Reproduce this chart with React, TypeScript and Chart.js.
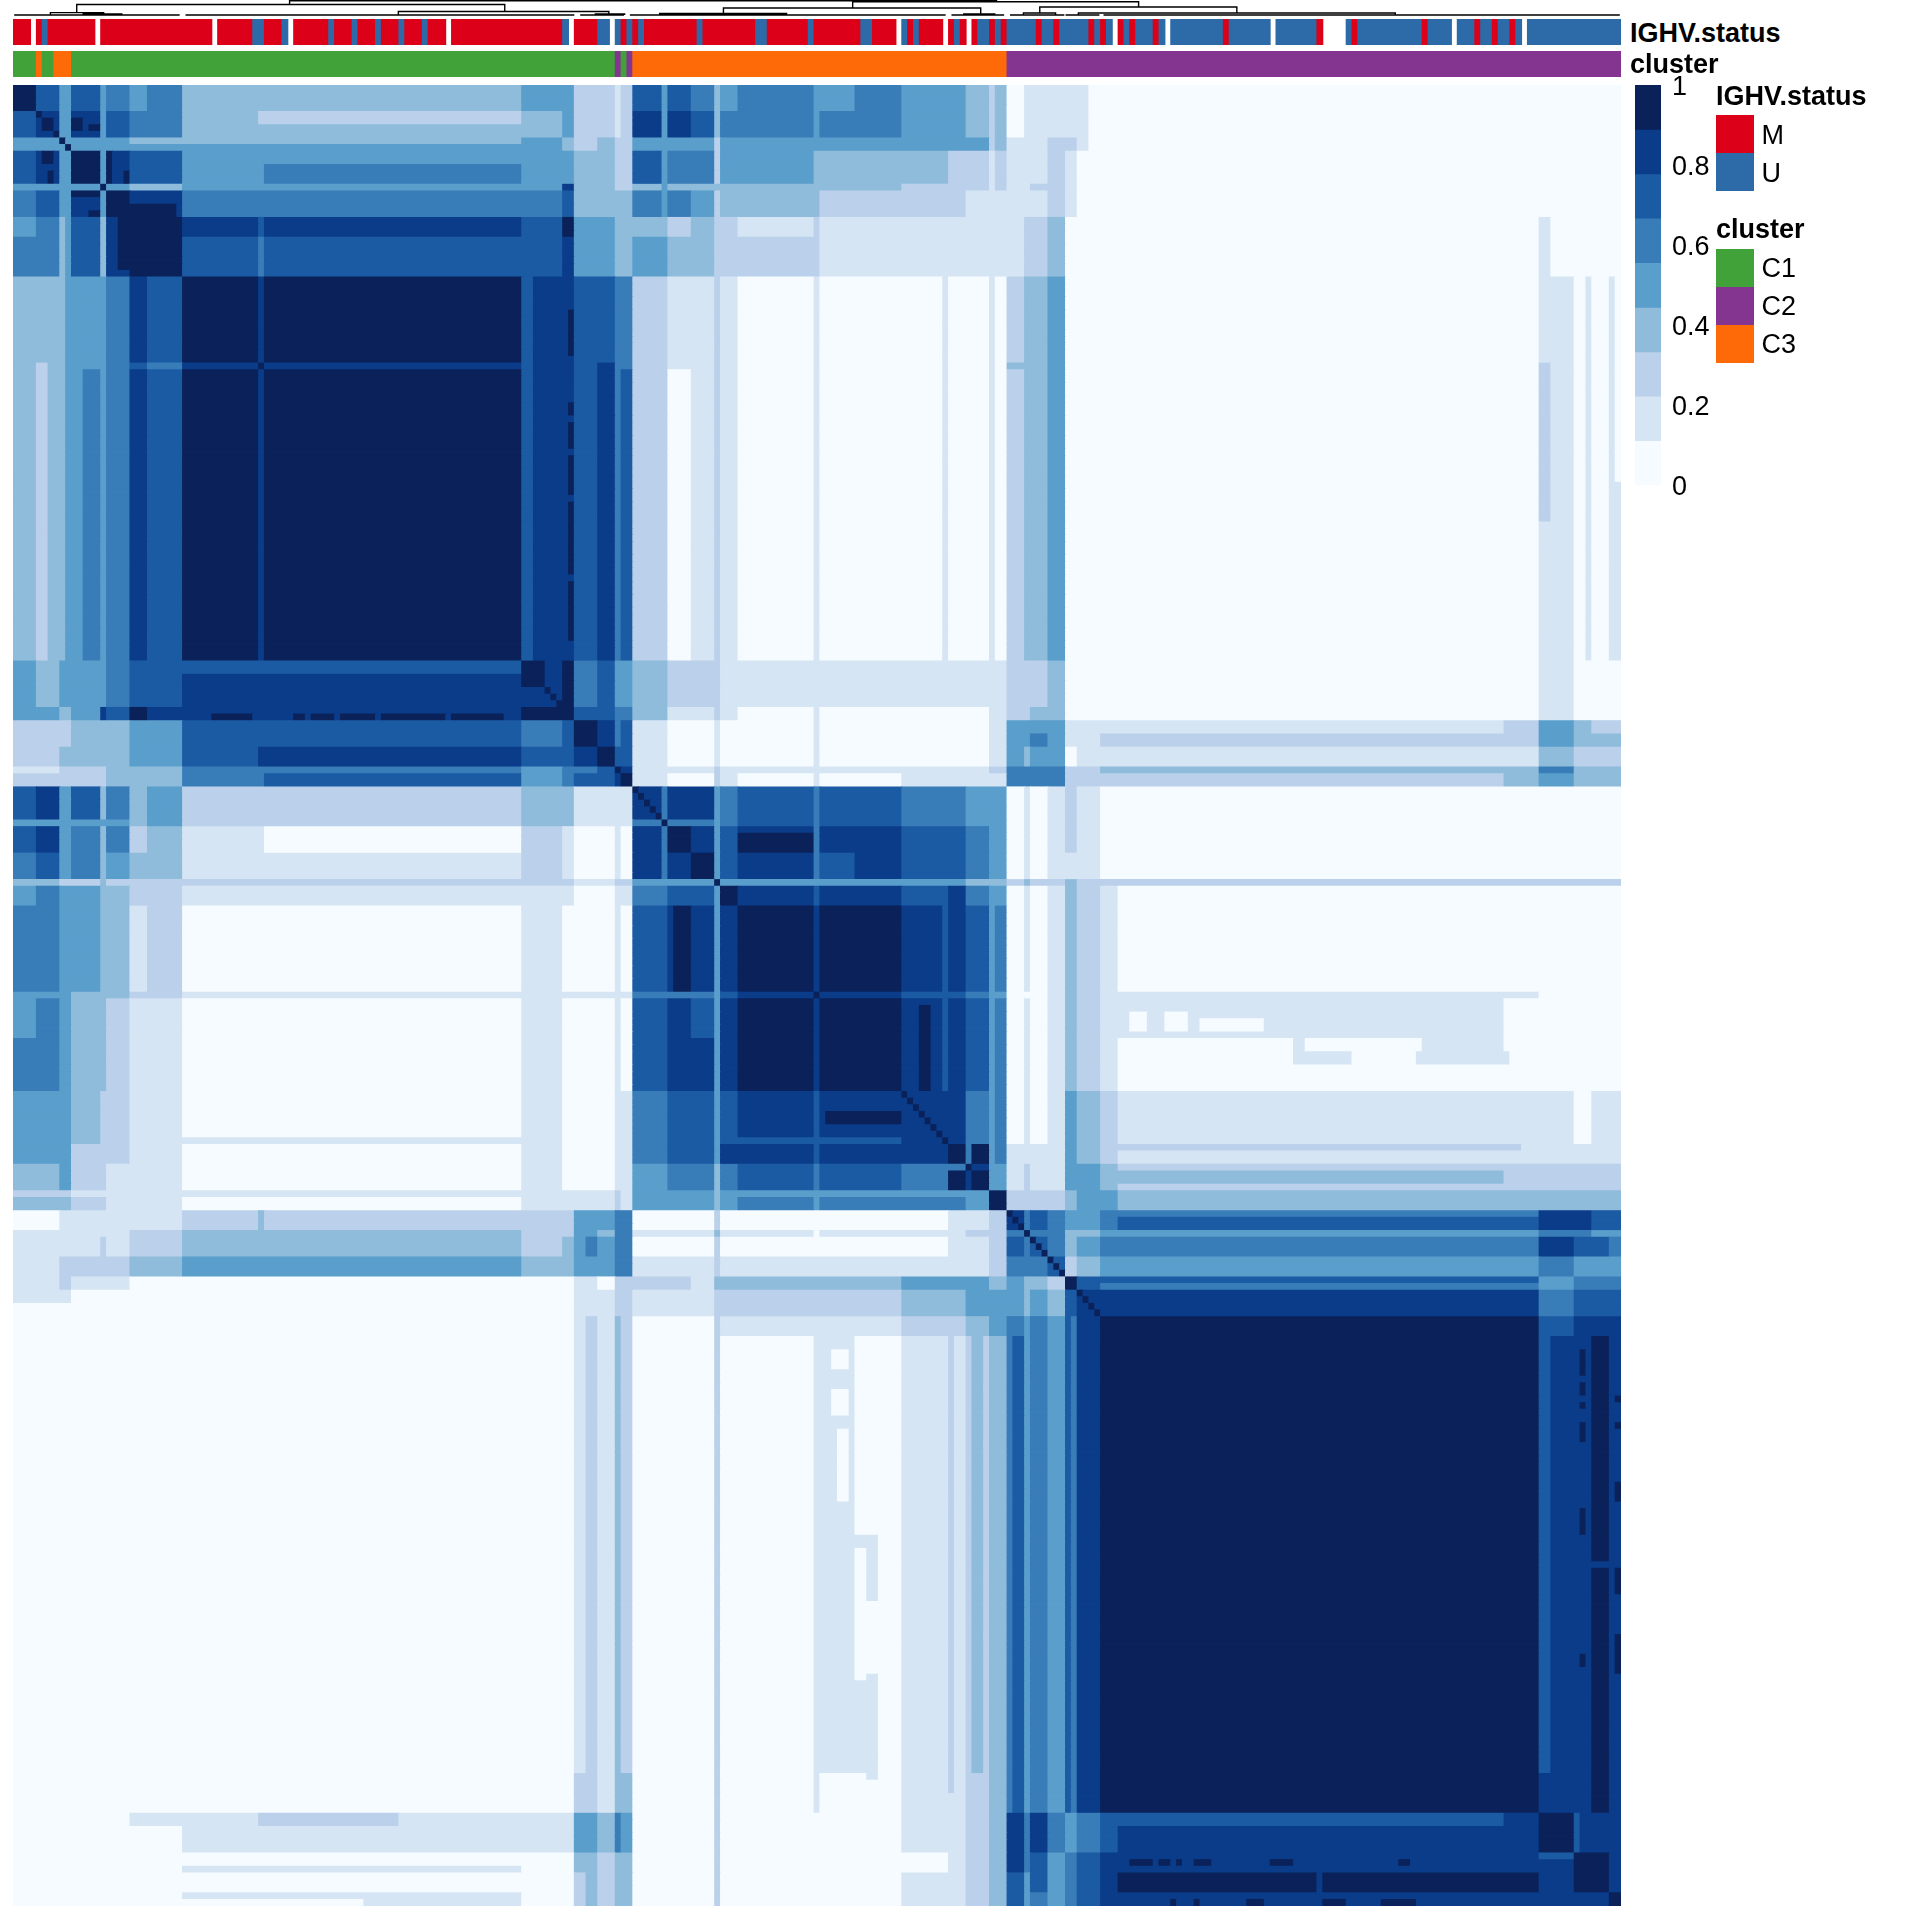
import React, { useEffect, useRef } from "react";
import { Chart, registerables } from "chart.js";

Chart.register(...registerables);

const SAMPLE_COUNT = 275;
const FONT = '"Liberation Sans", Arial, sans-serif';

const levelColors = ["#F6FBFF", "#D6E5F4", "#BBD0EA", "#8FBCDB", "#5A9ECC", "#387CB8", "#1B5BA4", "#0B3C8A", "#0A2259"];
const statusColors: Record<string, string> = { M: "#DC0018", U: "#2C6AA8" };
const clusterColors: Record<string, string> = { C1: "#41A23A", C2: "#843590", C3: "#FF6A08" };

// First sample of each block of the ordered consensus matrix (last entry closes the last block)
const blockStarts = [
  0, 4, 8, 10, 15, 16, 20, 23, 29, 42, 43, 87, 94, 96, 98, 100, 103, 104, 106, 112, 116, 120, 121, 124, 137, 138, 144,
  152, 160, 163, 167, 170, 173, 174, 177, 180, 182, 186, 189, 255, 261, 267, 270, 273, 275,
];

// Upper triangle of the block table, levels 0..8 of the colour key
const blockLevels = [
  "86464545 3334422212 6653454454433 0111110000000",
  "7474655 3333422212 7763554554433 0111110000000",
  "444433 3334322322 4442444444443 1112210000000",
  "84766 4454433322 6552443333222 1112100000000",
  "8433 4444733322 3333333332222 1122100000000",
  "877 5555633333 5542333222211 1112100000000",
  "88 7676844433 3232212111111 1223000000000",
  "8 6566744433 4332222111111 1223000000000",
  "8787766655 2112101000000 2334000001000",
  "877766755 2112101000000 3334000001000",
  "87766756 2012101000000 2334000001000",
  "7855644 3222111111111 2223000001000",
  "866655 3112101000001 2233000001000",
  "88756 1001001000001 4444111124322",
  "8756 1001001000001 4454112224333",
  "866 1001001000001 4344011113222",
  "87 1112111111112 5555223335333",
  "8 1002101001111 5555222234333",
  "7774565665544 0101210000000",
  "874685776654 0101210000000",
  "84675676654 0101110000000",
  "8444444433 2322322222222",
  "876776754 0101321000000",
  "87887765 0101321000000",
  "8776654 0001321110000",
  "887765 0101321100000",
  "87765 0101321000000",
  "7755 0101432111011",
  "875 1111432111111",
  "74 1211443322222",
  "8 2222344333333",
  "7565445667766",
  "855334445544",
  "65345557665",
  "6234445444",
  "865554555",
  "77775666",
  "8886777",
  "887787",
  "87787",
  "8777",
  "887",
  "87",
  "8",
];

// Finer details: [rowFrom, rowTo, colFrom, colTo, level], mirrored
const detailPatches: number[][] = [
  [4, 6, 42, 87, 2], [9, 10, 16, 87, 4], [10, 12, 42, 87, 4], [87, 91, 87, 91, 8],
  [29, 87, 87, 89, 6],
  [5, 7, 5, 7, 8], [5, 7, 10, 12, 8], [6, 7, 13, 15, 8], [10, 11, 5, 7, 8], [13, 14, 6, 7, 8],
  [16, 17, 10, 15, 8], [19, 20, 13, 15, 8], [18, 20, 20, 28, 8],
  [0, 20, 111, 112, 4], [106, 120, 111, 112, 5], [112, 113, 124, 137, 7],
  [155, 157, 139, 152, 8], [121, 152, 159, 160, 6],
  [160, 163, 164, 167, 8], [164, 167, 164, 167, 8], [160, 163, 163, 164, 5],
  [121, 165, 167, 168, 3], [167, 168, 121, 167, 4],
  [95, 96, 34, 41, 8], [95, 96, 48, 50, 8], [95, 96, 51, 55, 8], [95, 96, 56, 62, 8], [95, 96, 63, 74, 8], [95, 96, 75, 84, 8],
  [167, 168, 0, 10, 2], [167, 168, 10, 29, 1], [167, 168, 29, 87, 1], [29, 87, 159, 160, 1],
  [184, 186, 0, 10, 0],
  [261, 263, 20, 29, 1], [261, 263, 42, 66, 2], [269, 270, 29, 87, 1], [273, 274, 29, 87, 1], [273, 275, 60, 87, 1],
  [160, 161, 186, 258, 2], [170, 171, 186, 261, 5], [180, 181, 186, 261, 6],
  [146, 148, 219, 229, 1], [144, 146, 219, 221, 1], [146, 148, 240, 256, 1], [144, 148, 241, 255, 1], [144, 146, 228, 232, 0],
  [140, 143, 191, 194, 0], [140, 143, 197, 201, 0], [141, 143, 203, 214, 0],
  [189, 255, 163, 164, 2], [189, 255, 166, 167, 2], [189, 255, 261, 263, 6], [255, 261, 261, 263, 7],
  [261, 267, 267, 268, 6],
  [191, 195, 268, 269, 8], [196, 198, 268, 269, 8], [199, 200, 268, 269, 8], [202, 205, 268, 269, 8], [215, 219, 268, 269, 8], [237, 239, 268, 269, 8],
  [198, 199, 274, 275, 8], [202, 203, 274, 275, 8], [211, 214, 274, 275, 8], [224, 228, 274, 275, 8], [234, 240, 274, 275, 8],
  [223, 224, 270, 275, 7],
];

const ighvRuns =
  "M3 -1 M1 U1 M8 -1 M19 -1 M6 U2 M3 U1 -1 M6 U1 M3 U1 M3 U1 M3 U1 M3 U1 M3 -1 M19 U1 -1 M4 U2 -1 U1 M1 U1 M1 U1 M9 U1 M9 U2 M7 U1 M8 U2 M4 -1 U1 M1 U1 M4 -1 M1 U1 M1 -1 M1 U2 M1 U1 M1 U5 M1 U2 M1 U5 M1 U1 M1 U1 -1 M1 U1 M1 U3 M1 U1 -1 U9 M1 U7 -1 U7 M1 -4 U1 M1 U11 M1 U4 -1 U3 M1 U2 M1 U2 M1 U1 -1 U16".split(" ");
const clusterRuns = "C1 4,C3 1,C1 2,C3 3,C1 93,C2 1,C1 1,C2 1,C3 64,C2 105".split(",");

// Dendrogram joins, sample positions: [left, right, joinHeight, leftDrop, rightDrop]
const dendroJoins: number[][] = [
  [47.3, 168.2, 17.3, 13.5, 16.3],
  [10.9, 84.1, 13.5, 5.4, 6.5],
  [6.4, 15.5, 5.4, 3, 3],
  [65.9, 101.9, 6.5, 3, 4],
  [143.6, 192.5, 16.3, 10, 11],
  [121.5, 165.5, 10, 4.5, 4],
  [110.6, 132.3, 4.5, 3, 3],
  [162.6, 167.9, 4, 3, 3],
  [175.6, 209.3, 11, 5, 5],
  [172.8, 178.3, 5, 3, 3],
  [182.2, 236.4, 5, 3, 3],
  [12, 18.6, 4, 3, 3],
  [99.6, 104.6, 4, 3, 3],
];
const dendroBase: number[][] = [[0.2, 28.5], [29.5, 96], [97, 104.5], [105.5, 159.5], [160.5, 169.5], [170.5, 179.8], [180, 185.8], [186.5, 274.8]];

const colorbarEdges = [0, 0.111, 0.222, 0.333, 0.444, 0.556, 0.667, 0.778, 0.889, 1];
const legendStatus = ["M", "U"];
const legendCluster = ["C1", "C2", "C3"];

function buildGrid(): Int8Array {
  const g = new Int8Array(SAMPLE_COUNT * SAMPLE_COUNT);
  const set = (r: number, c: number, v: number) => {
    g[r * SAMPLE_COUNT + c] = v;
    g[c * SAMPLE_COUNT + r] = v;
  };
  const rows = blockLevels.map((s) => s.replace(/ /g, ""));
  rows.forEach((row, a) => {
    for (let k = 0; k < row.length; k++) {
      const b = a + k;
      const v = Number(row[k]);
      for (let r = blockStarts[a]; r < blockStarts[a + 1]; r++)
        for (let c = blockStarts[b]; c < blockStarts[b + 1]; c++) set(r, c, v);
    }
  });
  detailPatches.forEach(([r0, r1, c0, c1, v]) => {
    for (let r = r0; r < r1; r++) for (let c = c0; c < c1; c++) set(r, c, v);
  });
  for (let i = 0; i < SAMPLE_COUNT; i++) set(i, i, 8);
  return g;
}

function runBarChart(canvas: HTMLCanvasElement, labels: number[], data: any[], colors: string[]) {
  return new Chart(canvas, {
    type: "bar",
    data: { labels, datasets: [{ data, backgroundColor: colors, borderWidth: 0, barPercentage: 1, categoryPercentage: 1, inflateAmount: 0.5 }] },
    options: {
      indexAxis: "y",
      animation: false,
      responsive: false,
      events: [],
      layout: { padding: 0 },
      plugins: { legend: { display: false }, tooltip: { enabled: false } },
      scales: {
        x: { type: "linear", min: 0, max: SAMPLE_COUNT, display: false },
        y: { type: "category", reverse: false, offset: true, display: false },
      },
    },
  } as any);
}

function trackData(runs: { name: string; len: number }[], palette: Record<string, string>) {
  const data: any[] = [];
  const colors: string[] = [];
  let at = 0;
  runs.forEach(({ name, len }) => {
    if (palette[name]) {
      data.push({ x: [at, at + len], y: 0 });
      colors.push(palette[name]);
    }
    at += len;
  });
  return { data, colors };
}

const abs = (left: number, top: number, width: number, height: number): React.CSSProperties => ({
  position: "absolute", left, top, width, height,
});

function Label({ x, baseline, bold, children }: { x: number; baseline: number; bold?: boolean; children: React.ReactNode }) {
  return (
    <div style={{ position: "absolute", left: x, top: baseline - 22.86, font: `${bold ? "bold " : ""}27px/27px ${FONT}`, color: "#000", whiteSpace: "nowrap" }}>
      {children}
    </div>
  );
}

export default function App() {
  const heatRef = useRef<HTMLCanvasElement>(null);
  const ighvRef = useRef<HTMLCanvasElement>(null);
  const clusterRef = useRef<HTMLCanvasElement>(null);
  const dendroRef = useRef<HTMLCanvasElement>(null);
  const barRef = useRef<HTMLCanvasElement>(null);

  useEffect(() => {
    const charts: Chart[] = [];
    const grid = buildGrid();
    const labels = Array.from({ length: SAMPLE_COUNT }, (_, i) => i);
    const data: any[] = [];
    const colors: string[] = [];
    for (let r = 0; r < SAMPLE_COUNT; r++) {
      let c = 0;
      while (c < SAMPLE_COUNT) {
        const v = grid[r * SAMPLE_COUNT + c];
        let e = c + 1;
        while (e < SAMPLE_COUNT && grid[r * SAMPLE_COUNT + e] === v) e++;
        data.push({ x: [c, e], y: r });
        colors.push(levelColors[v]);
        c = e;
      }
    }
    charts.push(runBarChart(heatRef.current!, labels, data, colors));

    const ig = trackData(ighvRuns.map((t) => ({ name: t[0], len: Number(t.slice(1)) })), statusColors);
    charts.push(runBarChart(ighvRef.current!, [0], ig.data, ig.colors));
    const cl = trackData(clusterRuns.map((t) => ({ name: t.split(" ")[0], len: Number(t.split(" ")[1]) })), clusterColors);
    charts.push(runBarChart(clusterRef.current!, [0], cl.data, cl.colors));

    const path: any[] = [];
    dendroJoins.forEach(([l, r, h, dl, dr]) => {
      path.push({ x: l, y: dl }, { x: l, y: h }, { x: r, y: h }, { x: r, y: dr }, { x: NaN, y: NaN });
    });
    dendroBase.forEach(([a, b]) => {
      path.push({ x: a, y: 3 }, { x: b, y: 3 }, { x: NaN, y: NaN });
    });
    charts.push(
      new Chart(dendroRef.current!, {
        type: "scatter",
        data: { datasets: [{ data: path, showLine: true, spanGaps: false, borderColor: "#000", borderWidth: 1.4, pointRadius: 0, clip: false }] },
        options: {
          animation: false,
          responsive: false,
          events: [],
          layout: { padding: 0 },
          plugins: { legend: { display: false }, tooltip: { enabled: false } },
          scales: {
            x: { type: "linear", min: 0, max: SAMPLE_COUNT, display: false },
            y: { type: "linear", min: 0, max: 18, display: false },
          },
        },
      } as any)
    );

    const barData = levelColors.map((_, i) => ({ x: "key", y: [colorbarEdges[i], colorbarEdges[i + 1]] }));
    charts.push(
      new Chart(barRef.current!, {
        type: "bar",
        data: { labels: ["key"], datasets: [{ data: barData, backgroundColor: levelColors, borderWidth: 0, barPercentage: 1, categoryPercentage: 1 }] },
        options: {
          animation: false,
          responsive: false,
          events: [],
          layout: { padding: 0 },
          plugins: { legend: { display: false }, tooltip: { enabled: false } },
          scales: {
            x: { display: false },
            y: {
              position: "right",
              min: 0,
              max: 1,
              afterFit: (s: any) => { s.width = 74; },
              border: { display: false },
              grid: { display: false, drawTicks: false },
              ticks: {
                stepSize: 0.2,
                padding: 11,
                labelOffset: 3,
                color: "#000",
                font: { family: FONT, size: 27, lineHeight: 32 / 27 },
                callback: (v: any) => String(Number(Number(v).toFixed(1))),
              },
            },
          },
        },
      } as any)
    );
    return () => charts.forEach((c) => c.destroy());
  }, []);

  return (
    <div style={{ position: "absolute", left: 0, top: 0, width: 1920, height: 1920, background: "#fff", overflow: "hidden" }}>
      <canvas ref={dendroRef} width={1608} height={18} style={abs(13, 0, 1608, 18)} />
      <canvas ref={ighvRef} width={1608} height={26} style={abs(13, 19, 1608, 26)} />
      <canvas ref={clusterRef} width={1608} height={26} style={abs(13, 51, 1608, 26)} />
      <canvas ref={heatRef} width={1608} height={1821} style={abs(13, 85, 1608, 1821)} />
      <canvas ref={barRef} width={100} height={454} style={abs(1635, 58, 100, 454)} />
      <Label x={1630} baseline={43} bold>IGHV.status</Label>
      <Label x={1630} baseline={74} bold>cluster</Label>
      <Label x={1716} baseline={106} bold>IGHV.status</Label>
      {legendStatus.map((s, i) => (
        <React.Fragment key={s}>
          <div style={{ ...abs(1716, 115 + i * 38, 38, 38), background: statusColors[s] }} />
          <Label x={1761.6} baseline={144.5 + i * 38}>{s}</Label>
        </React.Fragment>
      ))}
      <Label x={1716} baseline={239} bold>cluster</Label>
      {legendCluster.map((s, i) => (
        <React.Fragment key={s}>
          <div style={{ ...abs(1716, 249 + i * 38, 38, 38), background: clusterColors[s] }} />
          <Label x={1761.6} baseline={278 + i * 38}>{s}</Label>
        </React.Fragment>
      ))}
    </div>
  );
}
